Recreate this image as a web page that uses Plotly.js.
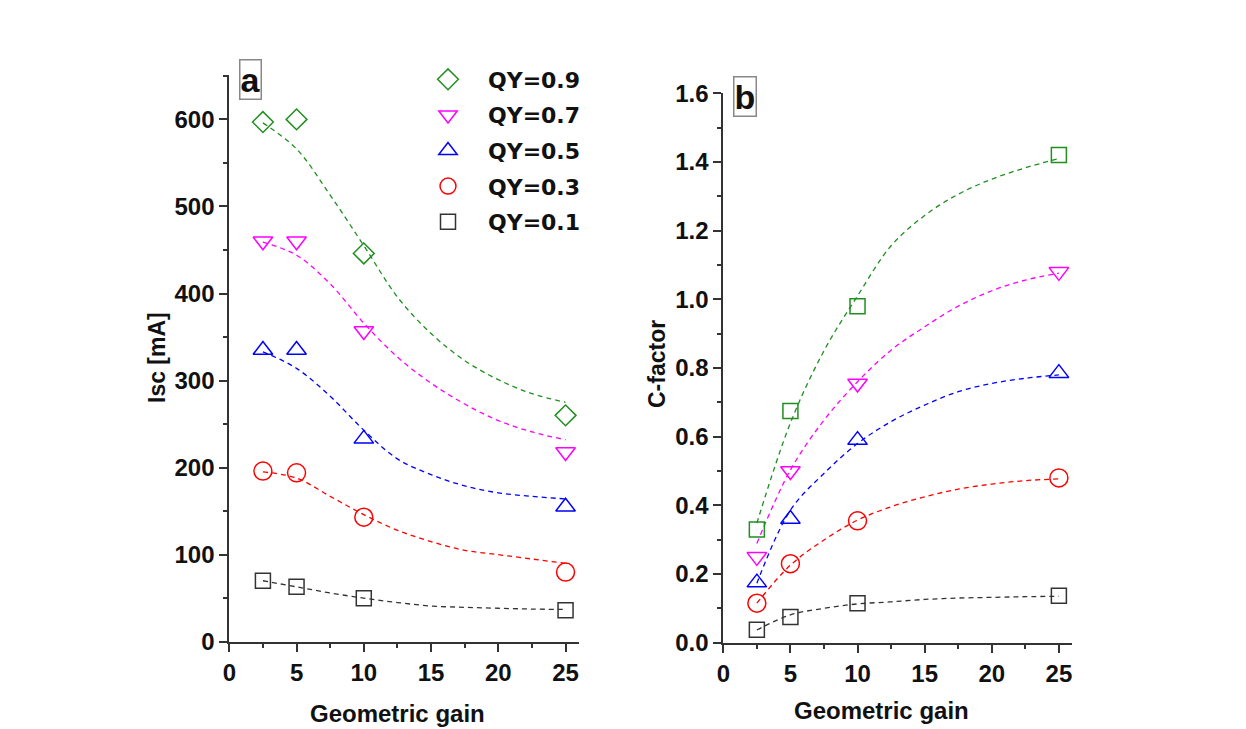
<!DOCTYPE html>
<html><head><meta charset="utf-8">
<script src="https://cdn.plot.ly/plotly-3.0.1.min.js"></script>
<style>body{margin:0;background:#fff}#chart{width:1246px;height:729px}</style>
</head><body><div id="chart"></div>
<script>
// ---- data ----
const gain = [2.5, 5, 10, 25];
const seriesNames = ['QY=0.9', 'QY=0.7', 'QY=0.5', 'QY=0.3', 'QY=0.1'];
const seriesColors = ['#1f8f1f', '#ff00ff', '#0000ff', '#ff0000', '#333333'];
const leftSymbols = ['diamond-open', 'triangle-down-open', 'triangle-up-open', 'circle-open', 'square-open'];
const rightSymbols = ['square-open', 'triangle-down-open', 'triangle-up-open', 'circle-open', 'square-open'];

// panel a: Isc [mA]
const iscQY09 = [597, 600, 446, 260];
const iscQY07 = [460, 460, 357, 218];
const iscQY05 = [335, 335, 233, 155];
const iscQY03 = [196, 194, 143, 80];
const iscQY01 = [70, 63, 50, 36];

// panel b: C-factor
const cfQY09 = [0.33, 0.675, 0.98, 1.42];
const cfQY07 = [0.25, 0.50, 0.755, 1.08];
const cfQY05 = [0.175, 0.36, 0.59, 0.785];
const cfQY03 = [0.115, 0.23, 0.355, 0.48];
const cfQY01 = [0.038, 0.075, 0.115, 0.137];

// fitted (dashed) curves
const fitX = [2.5, 5, 7.5, 10, 12.5, 15, 17.5, 20, 22.5, 25];
const iscFit09 = [596, 566, 513, 455, 396, 354, 323, 301, 285, 275];
const iscFit07 = [459, 444, 411, 366, 327, 297, 273, 254, 241, 232];
const iscFit05 = [333, 314, 282, 243, 210, 192, 179, 171, 167, 164];
const iscFit03 = [195, 188, 167, 146, 128, 115, 105, 100, 95, 90];
const iscFit01 = [70, 63, 56, 50, 45, 41, 39.5, 38.4, 37.5, 37];
const cfFit09 = [0.348, 0.64, 0.85, 1.01, 1.156, 1.244, 1.306, 1.35, 1.383, 1.41];
const cfFit07 = [0.289, 0.503, 0.648, 0.76, 0.852, 0.92, 0.98, 1.025, 1.056, 1.076];
const cfFit05 = [0.173, 0.386, 0.493, 0.58, 0.644, 0.692, 0.731, 0.755, 0.77, 0.78];
const cfFit03 = [0.115, 0.226, 0.299, 0.357, 0.396, 0.425, 0.447, 0.462, 0.472, 0.477];
const cfFit01 = [0.037, 0.081, 0.10, 0.113, 0.119, 0.126, 0.13, 0.132, 0.134, 0.135];

const iscData = [iscQY09, iscQY07, iscQY05, iscQY03, iscQY01];
const cfData = [cfQY09, cfQY07, cfQY05, cfQY03, cfQY01];
const iscFits = [iscFit09, iscFit07, iscFit05, iscFit03, iscFit01];
const cfFits = [cfFit09, cfFit07, cfFit05, cfFit03, cfFit01];

// ---- build traces ----
const FONT = '"Liberation Sans", Arial, sans-serif';
const LEGFONT = '"DejaVu Sans", "Liberation Sans", Arial, sans-serif';
const sizeFor = s => s.startsWith('diamond') ? 16 : s.startsWith('triangle') ? 17 : s.startsWith('circle') ? 18 : 15;
const traces = [];
for (let i = 0; i < 5; i++) {
  traces.push({x: fitX, y: iscFits[i], xaxis: 'x', yaxis: 'y', mode: 'lines', showlegend: false, hoverinfo: 'skip',
    line: {color: seriesColors[i], width: 1.3, dash: '5px,4px', shape: 'spline'}});
  traces.push({x: fitX, y: cfFits[i], xaxis: 'x2', yaxis: 'y2', mode: 'lines', showlegend: false, hoverinfo: 'skip',
    line: {color: seriesColors[i], width: 1.3, dash: '5px,4px', shape: 'spline'}});
}
for (let i = 0; i < 5; i++) {
  traces.push({x: gain, y: iscData[i], xaxis: 'x', yaxis: 'y', mode: 'markers', name: seriesNames[i], showlegend: true,
    legendgroup: 'g' + i,
    marker: {symbol: leftSymbols[i], size: sizeFor(leftSymbols[i]), color: seriesColors[i], line: {width: 1.5, color: seriesColors[i]}}});
}
for (let i = 0; i < 5; i++) {
  traces.push({x: gain, y: cfData[i], xaxis: 'x2', yaxis: 'y2', mode: 'markers', name: seriesNames[i], showlegend: false,
    marker: {symbol: rightSymbols[i], size: sizeFor(rightSymbols[i]), color: seriesColors[i], line: {width: 1.5, color: seriesColors[i]}}});
}

const W = 1246, H = 729;
const px = v => v / W, py = v => 1 - v / H;
const axisCommon = {
  showgrid: false, zeroline: false, showline: true, linecolor: '#333', linewidth: 2,
  ticks: 'outside', ticklen: 8, tickwidth: 2, tickcolor: '#333',
  tickfont: {family: FONT, size: 24, color: '#111', weight: 'bold'},
  minor: {ticks: 'outside', ticklen: 4, tickwidth: 2, tickcolor: '#333'}
};
const titleFont = {family: FONT, size: 24, weight: 'bold', color: '#111'};
const layout = {
  width: W, height: H, margin: {l: 0, r: 0, t: 0, b: 0},
  paper_bgcolor: '#fff', plot_bgcolor: 'rgba(0,0,0,0)',
  font: {family: FONT, color: '#111'},
  xaxis: Object.assign({}, axisCommon, {domain: [px(229.3), px(579)], range: [0, 26], dtick: 5, tick0: 0, minor: Object.assign({}, axisCommon.minor, {dtick: 2.5}), anchor: 'y'}),
  yaxis: Object.assign({}, axisCommon, {domain: [py(641.7), py(75)], range: [0, 651], dtick: 100, tick0: 0, minor: Object.assign({}, axisCommon.minor, {dtick: 50}), anchor: 'x'}),
  xaxis2: Object.assign({}, axisCommon, {domain: [px(723.3), px(1072.3)], range: [0, 26], dtick: 5, tick0: 0, minor: Object.assign({}, axisCommon.minor, {dtick: 2.5}), anchor: 'y2'}),
  yaxis2: Object.assign({}, axisCommon, {domain: [py(642.7), py(93.3)], range: [0, 1.6], dtick: 0.2, tick0: 0, tickformat: '.1f', minor: Object.assign({}, axisCommon.minor, {dtick: 0.1}), anchor: 'x2'}),
  showlegend: true,
  legend: {x: px(408), y: py(58.5), xanchor: 'left', yanchor: 'top', bgcolor: 'rgba(0,0,0,0)',
    font: {family: LEGFONT, size: 22, color: '#111', weight: 'bold'}, itemsizing: 'trace', itemwidth: 70,
    traceorder: 'grouped', tracegroupgap: 4},
  annotations: [
    {xref: 'paper', yref: 'paper', x: px(397), y: py(713), text: 'Geometric gain', showarrow: false,
      font: titleFont, xanchor: 'center', yanchor: 'middle'},
    {xref: 'paper', yref: 'paper', x: px(881), y: py(710), text: 'Geometric gain', showarrow: false,
      font: titleFont, xanchor: 'center', yanchor: 'middle'},
    {xref: 'paper', yref: 'paper', x: px(157), y: py(358), text: 'Isc [mA]', textangle: -90, showarrow: false,
      font: Object.assign({}, titleFont, {size: 23}), xanchor: 'center', yanchor: 'middle'},
    {xref: 'paper', yref: 'paper', x: px(657), y: py(364), text: 'C-factor', textangle: -90, showarrow: false,
      font: Object.assign({}, titleFont, {size: 23}), xanchor: 'center', yanchor: 'middle'},
    {xref: 'paper', yref: 'paper', x: px(250), y: py(80), text: 'a', showarrow: false,
      font: {family: FONT, size: 34, weight: 'bold', color: '#111'}, xanchor: 'center', yanchor: 'middle',
      bordercolor: '#888', borderwidth: 1.5, borderpad: 0, bgcolor: '#fff'},
    {xref: 'paper', yref: 'paper', x: px(745), y: py(96.5), text: 'b', showarrow: false,
      font: {family: FONT, size: 34, weight: 'bold', color: '#111'}, xanchor: 'center', yanchor: 'middle',
      bordercolor: '#888', borderwidth: 1.5, borderpad: 0, bgcolor: '#fff'}
  ]
};
Plotly.newPlot('chart', traces, layout, {staticPlot: true, displayModeBar: false});
</script></body></html>
